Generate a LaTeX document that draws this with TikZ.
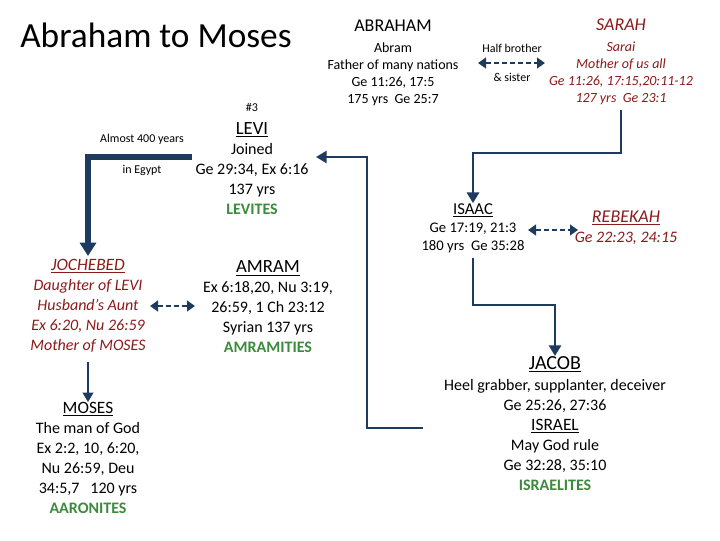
\documentclass[tikz,border=0pt]{standalone}
\usepackage{fontspec}
\setmainfont{Carlito}
\usetikzlibrary{arrows.meta}
\definecolor{navy}{HTML}{1F3A5F}
\definecolor{dred}{HTML}{8B1A1A}
\definecolor{dgreen}{HTML}{3C8A3C}
\tikzset{
 txt/.style={align=center,inner sep=0pt,font=\fontsize{12}{15}\selectfont},
 red/.style={txt,text=dred,font=\fontsize{12}{15}\selectfont\itshape},
 small/.style={inner sep=0pt,font=\fontsize{9}{10}\selectfont},
 conn/.style={navy,line width=2.2pt,-{Triangle[length=8pt,width=9pt]}},
 thick conn/.style={navy,line width=4.5pt,-{Triangle[length=10pt,width=12pt]}},
 dash arrow/.style={navy,line width=2pt,dashed,dash pattern=on 4pt off 2pt,{Triangle[length=6pt,width=8pt]}-{Triangle[length=6pt,width=8pt]}},
}
\begin{document}
\begin{tikzpicture}[x=0.75pt,y=-0.75pt]
\useasboundingbox (0,0) rectangle (720,540);
\node[anchor=west,inner sep=0pt,font=\fontsize{26.5}{30}\selectfont] (title) at (20,35) {Abraham to Moses};
% Abraham
\node[txt,font=\fontsize{10.5}{12.7}\selectfont] (abraham) at (393,63) {\fontsize{13.5}{15}\selectfont ABRAHAM\\[3pt]Abram\\Father of many nations\\Ge 11:26, 17:5\\175 yrs\ \ Ge 25:7};
\node[small] (hb) at (512,48) {Half brother};
\node[small] (sis) at (512,77) {\& sister};
\coordinate (hbl) at (478,63); \coordinate (hbr) at (545,63);
\draw[dash arrow] (hbl) -- (hbr);
\node[red,font=\fontsize{10.5}{12.7}\selectfont\itshape] (sarah) at (621,62) {\fontsize{13.5}{15}\selectfont SARAH\\[3pt]Sarai\\Mother of us all\\Ge 11:26, 17:15,20:11-12\\127 yrs\ \ Ge 23:1};
% Isaac
\node[txt,font=\fontsize{11}{13.5}\selectfont] (isaac) at (473,228) {\fontsize{12.5}{14}\selectfont\underline{ISAAC}\\Ge 17:19, 21:3\\180 yrs\ \ Ge 35:28};
\coordinate (sj) at (621,153);
\draw[conn] (621,110) coordinate (s0) -- (sj) -| (isaac.north);
\node[red] (rebekah) at (626,228) {\fontsize{13.5}{15}\selectfont\underline{REBEKAH}\\Ge 22:23, 24:15};
\coordinate (ir1) at (528,230); \coordinate (ir2) at (578,230);
\draw[dash arrow] (ir1) -- (ir2);
% Jacob
\node[txt,anchor=north] (jacob) at (555,356) {\fontsize{15}{17}\selectfont\underline{JACOB}\\[1pt]Heel grabber, supplanter, deceiver\\Ge 25:26, 27:36\\\fontsize{13}{15}\selectfont\underline{ISRAEL}\\May God rule\\Ge 32:28, 35:10\\\textcolor{dgreen}{\bfseries ISRAELITES}};
\coordinate (ij) at (473,305);
\draw[conn] (473,258) coordinate (i0) -- (ij) -| (jacob.north);
% Levi
\node[txt,anchor=north] (levi) at (252,103) {\fontsize{9}{10}\selectfont \#3\\[2pt]\fontsize{14}{16}\selectfont\underline{LEVI}\\\fontsize{12}{14.7}\selectfont Joined\\Ge 29:34, Ex 6:16\\137 yrs\\\textcolor{dgreen}{\bfseries LEVITES}};
\coordinate (jl) at (367,428); \coordinate (jc) at (367,157);
\draw[conn] (423,428) coordinate (j0) -- (jl) -- (jc) -- (316,157);
\node[small] (almost) at (142,139) {Almost 400 years};
\node[small] (egypt) at (142,170) {in Egypt};
% Jochebed
\node[red] (joch) at (88,306) {\fontsize{13}{15}\selectfont\underline{JOCHEBED}\\Daughter of LEVI\\Husband’s Aunt\\Ex 6:20, Nu 26:59\\Mother of MOSES};
\coordinate (lv) at (88,157);
\draw[thick conn] (192,157) coordinate (l0) -- (lv) -- (88,256);
\node[txt] (amram) at (268,307) {\fontsize{14}{15}\selectfont\underline{AMRAM}\\\fontsize{12}{15}\selectfont Ex 6:18,20, Nu 3:19,\\26:59, 1 Ch 23:12\\Syrian 137 yrs\\\textcolor{dgreen}{\bfseries AMRAMITIES}};
\coordinate (ja1) at (150,306); \coordinate (ja2) at (195,306);
\draw[dash arrow] (ja1) -- (ja2);
% Moses
\node[txt,anchor=north] (moses) at (88,402) {\fontsize{13}{15}\selectfont\underline{MOSES}\\The man of God\\Ex 2:2, 10, 6:20,\\Nu 26:59, Deu\\34:5,7\ \ \ 120 yrs\\\textcolor{dgreen}{\bfseries AARONITES}};
\draw[navy,line width=1.2pt,-{Triangle[length=7pt,width=8pt]}] (88,362) -- (moses.north);
\end{tikzpicture}
\end{document}
